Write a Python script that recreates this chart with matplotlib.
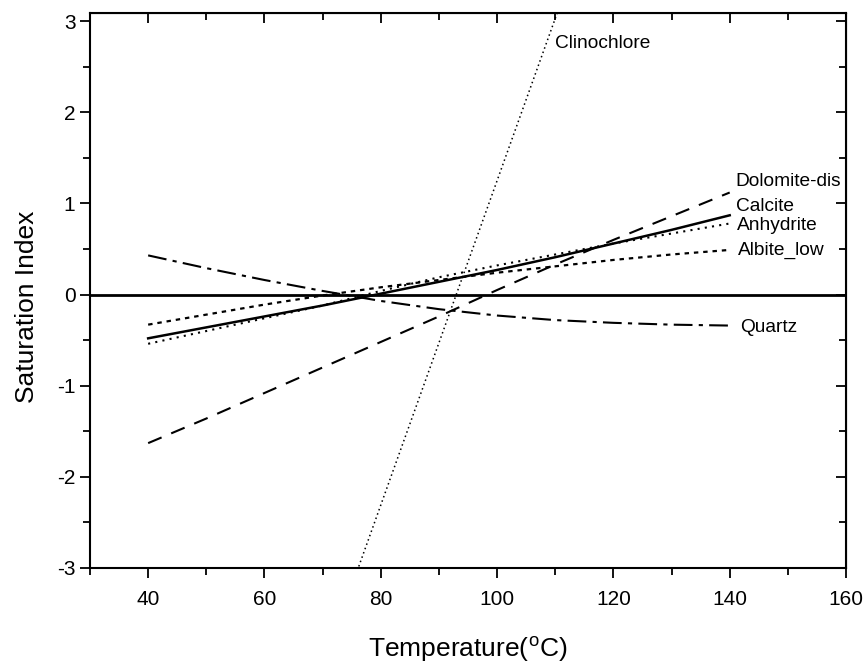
import matplotlib
matplotlib.use("Agg")
import matplotlib.pyplot as plt
from matplotlib.ticker import MultipleLocator

plt.rcParams['font.family'] = ['Liberation Sans', 'DejaVu Sans']
plt.rcParams['mathtext.fontset'] = 'custom'
plt.rcParams['mathtext.rm'] = 'Liberation Sans'
plt.rcParams['axes.unicode_minus'] = False

# temperatures (deg C)
temp = [40, 50, 60, 70, 80, 90, 100, 110, 120, 130, 140]

# saturation indices
quartz = [0.43, 0.29, 0.16, 0.04, -0.07, -0.16, -0.23, -0.28, -0.31, -0.33, -0.34]
calcite = [-0.48, -0.36, -0.24, -0.12, 0.01, 0.14, 0.27, 0.41, 0.56, 0.71, 0.87]
anhydrite = [-0.54, -0.40, -0.26, -0.12, 0.04, 0.19, 0.32, 0.44, 0.56, 0.67, 0.78]
albite_low = [-0.33, -0.22, -0.11, -0.01, 0.08, 0.16, 0.24, 0.31, 0.38, 0.44, 0.49]
dolomite = [-1.63, -1.36, -1.08, -0.80, -0.52, -0.24, 0.05, 0.33, 0.60, 0.86, 1.12]
clinochlore = [-9.4, -7.65, -5.87, -4.09, -2.31, -0.53, 1.25, 3.03, 4.8, 6.6, 8.4]

fig = plt.figure(figsize=(8.67, 6.69), dpi=100)
ax = fig.add_axes([0.1038, 0.151, 0.872, 0.8296])

ax.axhline(0, color='black', linewidth=2.0, zorder=1)

ax.plot(temp, quartz, color='black', linewidth=1.5, dashes=(9, 3, 2, 3))
ax.plot(temp, calcite, color='black', linewidth=1.8, linestyle='-')
ax.plot(temp, anhydrite, color='black', linewidth=1.5, dashes=(1, 2.5))
ax.plot(temp, albite_low, color='black', linewidth=1.6, dashes=(2, 2.2))
ax.plot(temp, dolomite, color='black', linewidth=1.5, dashes=(7, 5))
ax.plot(temp, clinochlore, color='black', linewidth=1.1, dashes=(1, 2))

lab = dict(fontsize=13.8, va='center', ha='left')
ax.text(141.0, 1.24, 'Dolomite-dis', **lab)
ax.text(141.0, 0.97, 'Calcite', **lab)
ax.text(141.3, 0.76, 'Anhydrite', **lab)
ax.text(141.5, 0.48, 'Albite_low', **lab)
ax.text(141.8, -0.36, 'Quartz', **lab)
ax.text(110.0, 2.75, 'Clinochlore', **lab)

ax.set_xlim(30, 160)
ax.set_ylim(-3, 3.09)
ax.xaxis.set_major_locator(MultipleLocator(20))
ax.xaxis.set_minor_locator(MultipleLocator(10))
ax.yaxis.set_major_locator(MultipleLocator(1))
ax.yaxis.set_minor_locator(MultipleLocator(0.5))

ax.tick_params(which='both', direction='out', top=False, right=False,
               width=1.3, labelsize=15)
ax.tick_params(axis='x', which='major', pad=9)
ax.tick_params(which='major', length=7)
ax.tick_params(which='minor', length=5)

# inward ticks on top and right
ax2 = ax.secondary_xaxis('top')
ax2.xaxis.set_major_locator(MultipleLocator(20))
ax2.xaxis.set_minor_locator(MultipleLocator(10))
ax2.tick_params(which='both', direction='in', labeltop=False, width=1.3)
ax2.tick_params(which='major', length=7)
ax2.tick_params(which='minor', length=5)
ax3 = ax.secondary_yaxis('right')
ax3.yaxis.set_major_locator(MultipleLocator(1))
ax3.yaxis.set_minor_locator(MultipleLocator(0.5))
ax3.tick_params(which='both', direction='in', labelright=False, width=1.3)
ax3.tick_params(which='major', length=7)
ax3.tick_params(which='minor', length=5)

for s in ax.spines.values():
    s.set_linewidth(1.5)

ax.set_xlabel(r'Temperature($^{\rm o}$C)', fontsize=19, labelpad=18)
ax.set_ylabel('Saturation Index', fontsize=19)
ax.yaxis.set_label_coords(-0.068, 0.47)

fig.savefig('out.png', dpi=100)
